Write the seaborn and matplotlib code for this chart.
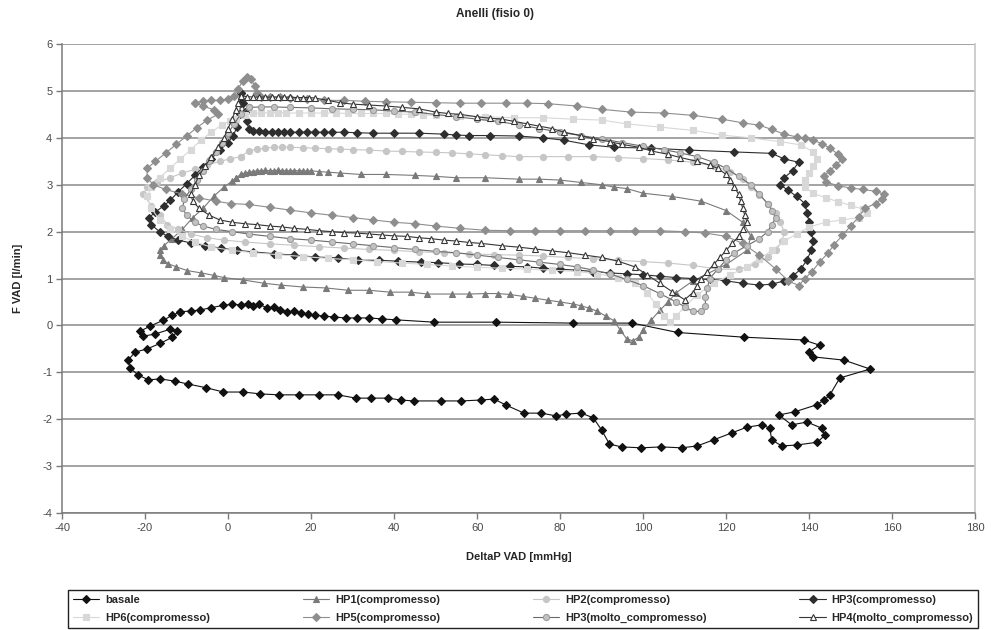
import matplotlib
matplotlib.use("Agg")
import matplotlib.pyplot as plt
from matplotlib.lines import Line2D
import seaborn as sns

# Pressure-flow loops: (DeltaP VAD [mmHg], F VAD [l/min]) in acquisition order
basale = [(-11.5,0.29),(-9,0.31),(-6.7,0.33),(-4,0.38),(-1.1,0.43),(1,0.45),(3,0.44),(4.7,0.46),(6,0.42),
          (7.5,0.45),(9.5,0.37),(11,0.4),(12.5,0.33),(14.3,0.29),(16,0.3),(17.5,0.26),(19.2,0.24),(21,0.22),
          (23,0.2),(25.5,0.18),(28.4,0.16),(31,0.16),(34,0.16),(37,0.14),(40.4,0.12),(49.6,0.07),(64.6,0.07),
          (83.2,0.05),(97.4,0.05),(108.3,-0.15),(124.2,-0.25),(138.7,-0.31),(142.5,-0.42),(139.9,-0.57),
          (141,-0.67),(148.4,-0.74),(154.7,-0.93),(147.4,-1.12),(145,-1.48),(143.6,-1.59),(141.9,-1.69),
          (136.6,-1.84),(132.7,-1.91),(135.8,-2.12),(139.5,-2.06),(143,-2.19),(143.8,-2.34),(142,-2.49),
          (137,-2.55),(133.4,-2.57),(131,-2.44),(130.5,-2.19),(128.6,-2.12),(125,-2.17),(121.4,-2.29),
          (117,-2.44),(113,-2.57),(109.3,-2.61),(104.4,-2.59),(99.6,-2.61),(94.8,-2.59),(91.9,-2.53),
          (90,-2.23),(88,-1.97),(85.1,-1.87),(81.5,-1.89),(79.1,-1.93),(75.5,-1.87),(71.3,-1.87),(67,-1.7),
          (64.1,-1.57),(61,-1.59),(56.2,-1.61),(51.3,-1.61),(44.8,-1.61),(41.6,-1.59),(38.5,-1.55),
          (34.4,-1.55),(30.8,-1.55),(26.4,-1.48),(21.8,-1.48),(17,-1.48),(12.2,-1.48),(7.8,-1.46),
          (3.7,-1.42),(-1.1,-1.42),(-5.2,-1.33),(-9.6,-1.25),(-12.7,-1.19),(-16.3,-1.14),(-19.2,-1.16),
          (-21.6,-1.06),(-23.6,-0.91),(-24.1,-0.74),(-22.4,-0.57),(-19.5,-0.5),(-16.3,-0.38),(-13.4,-0.25),
          (-12.2,-0.12),(-13.9,-0.08),(-17.5,-0.18),(-20.4,-0.23),(-21.1,-0.12),(-18.7,-0.01),(-15.6,0.11),
          (-13.4,0.22)]

hp1 = [(2,3.15),(3,3.22),(4,3.25),(5,3.27),(6,3.28),(7,3.3),(8,3.3),(9,3.31),(10,3.3),(11,3.3),(12,3.31),
       (13,3.3),(14,3.3),(15,3.3),(16,3.3),(17,3.3),(18,3.3),(19,3.29),(20,3.3),(22,3.28),(24,3.27),
       (27,3.25),(32,3.22),(38,3.22),(45,3.2),(50,3.18),(55,3.15),(62,3.15),(70,3.12),(75,3.12),(80,3.1),
       (85,3.05),(90,3.0),(93,2.95),(96,2.92),(100,2.82),(107,2.75),(114,2.65),(120,2.45),(124,2.2),
       (126,1.9),(125,1.6),(120,1.3),(112,0.95),(108,0.7),(106,0.5),(104,0.32),(102,0.12),(100,-0.1),
       (99,-0.25),(97.5,-0.33),(96,-0.28),(94.5,-0.1),(93,0.1),(91,0.2),(89,0.3),(87,0.37),(85,0.42),
       (83,0.46),(80,0.5),(77,0.54),(74,0.58),(71,0.62),(68,0.66),(65,0.68),(62,0.68),(58,0.67),(54,0.67),
       (48,0.67),(44,0.71),(39,0.71),(34,0.75),(29,0.75),(23.5,0.8),(18,0.82),(12.7,0.86),(8.6,0.9),
       (3.7,0.97),(-1,1.02),(-3.5,1.07),(-6.5,1.12),(-9.8,1.17),(-12.5,1.25),(-14.5,1.32),(-15.6,1.4),
       (-16.5,1.5),(-16.5,1.6),(-15.5,1.7),(-13.5,1.85),(-11,2.05),(-8.5,2.3),(-6,2.5),(-3.5,2.75),
       (-1,2.95),(1,3.08)]

hp2 = [(3,3.6),(5,3.72),(7,3.76),(9,3.78),(11,3.8),(13,3.8),(15,3.8),(18,3.79),(21,3.78),(24,3.77),
       (27,3.76),(30,3.75),(34,3.74),(38,3.72),(42,3.71),(46,3.7),(50,3.69),(54,3.68),(58,3.66),(62,3.64),
       (66,3.62),(70,3.6),(76,3.6),(82,3.6),(88,3.6),(94,3.58),(100,3.56),(106,3.53),(112,3.48),(117,3.4),
       (121,3.28),(124,3.12),(126,2.95),(128,2.78),(130,2.6),(132,2.4),(133,2.2),(134,2.0),(133.5,1.8),
       (132,1.6),(130,1.45),(127,1.3),(123,1.2),(118,1.2),(112,1.28),(106,1.33),(100,1.36),(94,1.39),
       (88,1.42),(82,1.45),(76,1.48),(70,1.5),(64,1.51),(58,1.53),(52,1.55),(46,1.57),(40,1.6),(34,1.62),
       (28,1.65),(22,1.68),(16,1.71),(10,1.74),(4,1.78),(-1,1.82),(-5,1.87),(-9,1.95),(-12,2.05),
       (-14.6,2.15),(-16.5,2.35),(-18.5,2.55),(-20.4,2.8),(-19.5,2.95),(-17,3.05),(-14,3.15),(-11,3.25),
       (-8,3.33),(-5,3.42),(-2,3.5),(0.5,3.55)]

hp3 = [(3,4.95),(3.5,4.75),(4,4.55),(4.5,4.35),(5,4.2),(6,4.15),(7.5,4.14),(9,4.13),(10.5,4.13),(12,4.13),
       (13.5,4.12),(15,4.12),(17,4.12),(19,4.12),(21,4.12),(23,4.12),(25,4.12),(28,4.12),(31,4.11),
       (35,4.1),(40,4.1),(46,4.1),(52,4.08),(55,4.06),(58,4.05),(63,4.05),(70,4.04),(76,4.0),(81,3.95),
       (87,3.85),(93,3.8),(102,3.78),(111,3.74),(122,3.7),(131,3.67),(134,3.55),(137.5,3.48),(136,3.3),
       (134,3.15),(133,3.0),(135,2.88),(137,2.75),(139,2.6),(139.5,2.4),(140,2.2),(140.5,2.0),(141,1.8),
       (140.5,1.6),(139.5,1.4),(138,1.2),(136,1.05),(134,0.95),(131,0.88),(128,0.86),(124,0.9),(120,0.95),
       (116,0.98),(112,1.0),(108,1.02),(104,1.05),(100,1.08),(96,1.1),(92,1.12),(88,1.15),(84,1.18),
       (80,1.2),(76,1.22),(72,1.25),(68,1.26),(64,1.28),(60,1.3),(55.7,1.31),(50.5,1.34),(46.5,1.35),
       (41,1.37),(36.4,1.39),(31.2,1.39),(26.4,1.44),(21,1.46),(15.8,1.5),(11,1.53),(6,1.57),(2.2,1.6),
       (-1.8,1.65),(-5.5,1.7),(-9,1.76),(-12,1.82),(-14.5,1.9),(-16.5,2.0),(-18.5,2.15),(-19,2.3),
       (-17.5,2.42),(-15.5,2.55),(-13.9,2.67),(-12,2.85),(-10,3.02),(-8,3.2),(-6,3.38),(-4,3.56),
       (-2,3.74),(0,3.9),(1.2,4.05),(2.2,4.23),(2.8,4.5),(3,4.75)]

hp6 = [(2,4.4),(4,4.48),(6,4.52),(8,4.53),(10,4.54),(12,4.54),(14,4.53),(17,4.53),(20,4.53),(23,4.53),
       (26,4.53),(29,4.52),(32,4.52),(35,4.52),(38,4.52),(41,4.51),(44,4.5),(47,4.49),(50,4.48),(56,4.46),
       (62,4.45),(69,4.43),(76,4.43),(83,4.4),(90,4.38),(96,4.3),(104,4.23),(112,4.16),(119,4.06),
       (126,4.0),(133,3.92),(138,3.85),(141,3.7),(142,3.55),(141,3.4),(140,3.25),(139,3.1),(139,2.95),
       (141,2.82),(144,2.72),(147,2.64),(150,2.56),(153,2.48),(154,2.4),(152,2.3),(148,2.25),(144,2.2),
       (140,2.1),(137,1.95),(134,1.8),(131,1.6),(128,1.42),(125,1.25),(121,1.08),(117,0.9),(113,0.65),
       (110,0.4),(108,0.2),(106.5,0.08),(105,0.2),(103,0.45),(101,0.7),(98,0.9),(94,1.02),(89,1.1),
       (84,1.15),(78,1.18),(72,1.2),(66,1.22),(60,1.24),(54,1.27),(48,1.3),(42,1.33),(36,1.36),(30,1.4),
       (24,1.43),(18,1.47),(12,1.51),(6,1.55),(1,1.6),(-4,1.67),(-8,1.78),(-11,1.9),(-14,2.05),
       (-16.5,2.25),(-18.5,2.5),(-19.5,2.75),(-18.5,2.95),(-16.5,3.15),(-14,3.35),(-11.5,3.55),(-9,3.75),
       (-6.5,3.95),(-4,4.12),(-1.5,4.28),(0.5,4.36)]

hp5 = [(-8,4.75),(-6,4.78),(-4,4.8),(-2,4.8),(0,4.83),(1.5,4.9),(2.5,5.05),(3.5,5.22),(4.5,5.3),
       (5.5,5.25),(6.5,5.1),(7,4.95),(8,4.88),(10,4.87),(12.5,4.87),(15,4.85),(19,4.82),(23,4.8),(28,4.8),
       (33,4.78),(38,4.77),(44,4.76),(50,4.75),(56,4.74),(61,4.74),(67,4.74),(72,4.74),(77,4.73),
       (84,4.68),(90,4.61),(97,4.55),(105,4.53),(112,4.48),(119,4.4),(124,4.32),(128,4.27),(131,4.18),
       (134,4.08),(137,4.02),(139,3.99),(141,3.95),(143,3.88),(145,3.78),(147,3.65),(148,3.55),
       (146.5,3.42),(145,3.3),(143.5,3.18),(144,3.06),(147,2.98),(150,2.93),(153,2.9),(156,2.86),(158,2.8),
       (157.5,2.7),(156,2.6),(153.5,2.5),(152,2.32),(150,2.12),(148,1.92),(146,1.72),(144.5,1.54),
       (142.5,1.35),(140.7,1.15),(139,1.0),(137.5,0.85),(135,0.95),(132,1.2),(128,1.5),(124,1.75),
       (120,1.9),(115,1.97),(110,2.0),(104,2.02),(98,2.02),(92,2.02),(86,2.02),(80,2.02),(74,2.02),
       (68,2.02),(62,2.03),(56,2.07),(50,2.12),(45,2.17),(40,2.2),(35,2.25),(30,2.3),(25,2.35),(20,2.4),
       (15,2.46),(10,2.52),(5,2.58),(0.6,2.6),(-3,2.65),(-7,2.72),(-11,2.8),(-15,2.9),(-18,3.0),
       (-19.5,3.15),(-19.5,3.35),(-17.5,3.5),(-15,3.68),(-12.5,3.86),(-10,4.04),(-7.5,4.22),(-5,4.38),
       (-2.5,4.5),(-3.5,4.6),(-6,4.68)]

hp3_molto = [(5,4.65),(8,4.66),(11,4.66),(15,4.65),(20,4.64),(25,4.62),(30,4.61),(35,4.6),(40,4.57),
             (45,4.55),(50,4.5),(55,4.45),(60,4.4),(65,4.35),(70,4.28),(75,4.2),(80,4.12),(85,4.05),
             (90,3.98),(95,3.9),(100,3.82),(105,3.75),(109,3.68),(113,3.6),(117,3.48),(120,3.35),
             (123,3.18),(126,3.0),(128,2.8),(130,2.6),(131,2.45),(132,2.3),(131,2.15),(130,2.0),(128,1.85),
             (125,1.7),(122,1.55),(120,1.4),(118,1.2),(116,1.0),(115.5,0.8),(115,0.6),(115,0.42),(114,0.3),
             (112,0.3),(110,0.4),(108,0.5),(104,0.68),(100,0.85),(96,0.98),(92,1.1),(88,1.18),(84,1.25),
             (80,1.3),(75,1.35),(70,1.4),(65,1.45),(60,1.5),(55,1.55),(50,1.58),(45,1.62),(40,1.66),
             (35,1.7),(30,1.74),(25,1.78),(20,1.82),(15,1.85),(10,1.9),(5,1.95),(1,2.0),(-3,2.05),
             (-6,2.12),(-8,2.2),(-10,2.35),(-11,2.5),(-10.5,2.7),(-9,2.9),(-7.5,3.1),(-6,3.3),(-4.5,3.5),
             (-3,3.7),(-1.5,3.9),(0,4.1),(1.5,4.3),(3,4.5)]

hp4_molto = [(3,4.9),(4.5,4.88),(6,4.87),(7.5,4.87),(9,4.87),(10.5,4.87),(12,4.87),(13.5,4.87),(15,4.87),
             (16.5,4.86),(18,4.86),(19.5,4.86),(21,4.85),(24,4.8),(27,4.75),(30,4.72),(34,4.7),(38,4.68),
             (42,4.65),(46,4.62),(50,4.55),(53,4.52),(56,4.5),(60,4.45),(63,4.42),(66,4.4),(69,4.35),
             (72,4.3),(75,4.25),(78,4.2),(81,4.12),(85,4.05),(88,3.98),(92,3.92),(95,3.86),(99,3.8),
             (102,3.72),(106,3.65),(109,3.58),(113,3.5),(116,3.42),(118,3.35),(120,3.22),(121,3.1),
             (122,2.95),(123,2.8),(123.5,2.65),(124,2.5),(124.5,2.35),(125,2.2),(124,2.05),(123,1.9),
             (121.5,1.75),(120,1.6),(118.5,1.45),(117,1.3),(115.5,1.15),(114,1.0),(113,0.85),(112,0.7),
             (110,0.55),(107,0.72),(104,0.9),(101,1.08),(98,1.25),(94,1.37),(90,1.45),(86,1.5),(82,1.55),
             (78,1.59),(74,1.63),(70,1.67),(66,1.7),(61,1.75),(58,1.77),(55,1.8),(52,1.82),(49,1.85),
             (46,1.87),(43,1.9),(40,1.91),(37,1.93),(34,1.95),(31,1.97),(28,1.98),(25,2.0),(22,2.02),
             (19,2.05),(16,2.07),(13,2.1),(10,2.12),(7,2.15),(4,2.17),(1,2.2),(-2,2.25),(-4.5,2.35),
             (-7,2.5),(-8.5,2.65),(-9,2.8),(-8,3.0),(-7,3.2),(-5.5,3.4),(-4,3.6),(-2.5,3.8),(-1,4.0),
             (0,4.2),(1,4.4),(1.8,4.6),(2.5,4.75)]

series_names = ["basale", "HP1(compromesso)", "HP2(compromesso)", "HP3(compromesso)",
                "HP6(compromesso)", "HP5(compromesso)", "HP3(molto_compromesso)",
                "HP4(molto_compromesso)"]
series_data = [basale, hp1, hp2, hp3, hp6, hp5, hp3_molto, hp4_molto]

# line colour, marker, marker size, marker face, marker edge
styles = [
    ("#111111", "D", 4.2, "#111111", "#111111"),
    ("#7a7a7a", "^", 5.0, "#7a7a7a", "#7a7a7a"),
    ("#c6c6c6", "o", 4.4, "#c6c6c6", "#c6c6c6"),
    ("#2e2e2e", "D", 4.2, "#2e2e2e", "#2e2e2e"),
    ("#d8d8d8", "s", 4.6, "#d8d8d8", "#d8d8d8"),
    ("#8e8e8e", "D", 4.4, "#8e8e8e", "#8e8e8e"),
    ("#6a6a6a", "o", 4.4, "#c2c2c2", "#9a9a9a"),
    ("#363636", "^", 5.0, "#ffffff", "#363636"),
]

sns.set_theme(style="white")
plt.rcParams["font.family"] = ["Liberation Sans", "DejaVu Sans"]
plt.rcParams["axes.unicode_minus"] = False

fig = plt.figure(figsize=(9.91, 6.30), dpi=100)
ax = fig.add_axes([0.0626, 0.1857, 0.9214, 0.7443])

handles = []
for name, pts, (lc, mk, ms, fc, ec) in zip(series_names, series_data, styles):
    xs = [p[0] for p in pts] + [pts[0][0]]
    ys = [p[1] for p in pts] + [pts[0][1]]
    sns.lineplot(x=xs, y=ys, sort=False, estimator=None, ax=ax, color=lc,
                 linewidth=0.8, marker=mk, markersize=ms, markerfacecolor=fc,
                 markeredgecolor=ec, markeredgewidth=0.8, legend=False)
    handles.append(Line2D([], [], color=lc, linewidth=0.8, marker=mk, markersize=ms,
                          markerfacecolor=fc, markeredgecolor=ec, markeredgewidth=0.8,
                          label=name))

ax.set_xlim(-40, 180)
ax.set_ylim(-4, 6)
ax.set_xticks(range(-40, 181, 20))
ax.set_yticks(range(-4, 7))
ax.yaxis.grid(True, color="#8a8a8a", linewidth=1.1)
ax.xaxis.grid(False)
ax.set_axisbelow(True)
for side in ("left", "bottom"):
    ax.spines[side].set_color("#7a7a7a")
    ax.spines[side].set_linewidth(1.1)
ax.spines["right"].set_color("#c8c8c8")
ax.spines["top"].set_visible(False)
ax.tick_params(axis="both", direction="out", length=4, width=1, color="#7a7a7a",
               labelsize=8, labelcolor="#4a4a4a", pad=3, left=True, bottom=True)

ax.set_xlabel("DeltaP VAD [mmHg]", fontsize=8, fontweight="bold", labelpad=14)
ax.set_ylabel("F VAD [l/min]", fontsize=8, fontweight="bold", labelpad=14)
fig.text(0.5, 0.977, "Anelli (fisio 0)", ha="center", va="center",
         fontsize=8.5, fontweight="bold")

# legend reads row by row: 4 entries per row
ncol = 4
order = [r * ncol + c for c in range(ncol) for r in range(2)]
fig.legend(handles=[handles[i] for i in order], loc="upper left", ncol=ncol,
           mode="expand", bbox_to_anchor=(0.0626, 0.0, 0.93, 0.072), frameon=True,
           fancybox=False, edgecolor="#222222", framealpha=1,
           prop={"size": 8, "weight": "bold"}, handlelength=2.4,
           handletextpad=0.5, borderpad=0.45, labelspacing=0.7)

fig.savefig("out.png", dpi=100)
